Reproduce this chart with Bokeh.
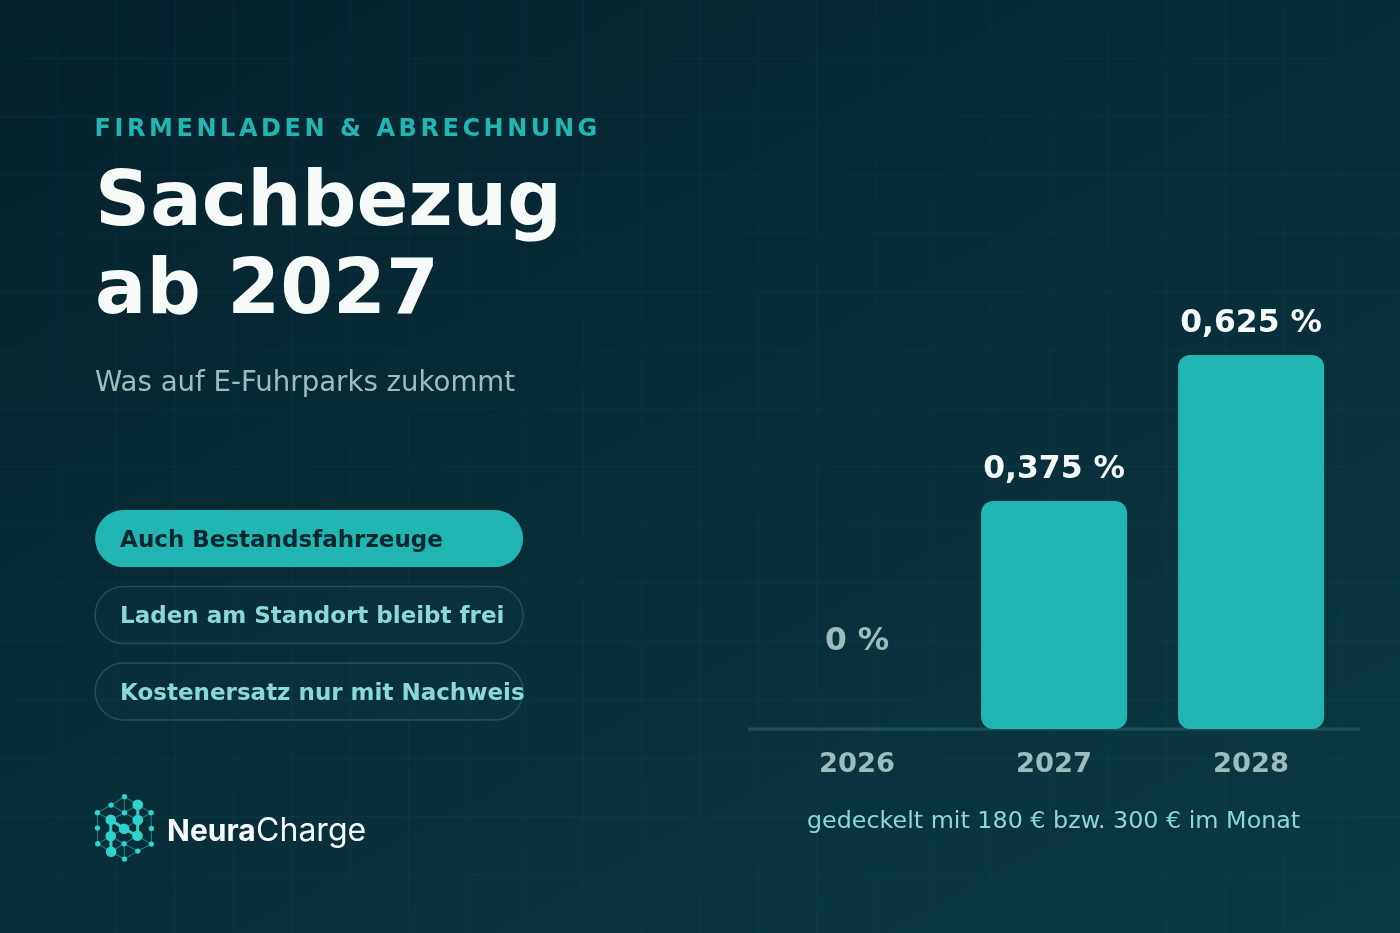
import numpy as np

from bokeh.core.properties import value
from bokeh.embed import file_html
from bokeh.models import ColumnDataSource, Range1d
from bokeh.plotting import figure
from bokeh.resources import INLINE

W, H = 1400, 933

eyebrow = "FIRMENLADEN & ABRECHNUNG"
title_lines = ["Sachbezug", "ab 2027"]
subtitle = "Was auf E-Fuhrparks zukommt"
pills = ["Auch Bestandsfahrzeuge", "Laden am Standort bleibt frei", "Kostenersatz nur mit Nachweis"]
brand_bold = "Neura"
brand_light = "Charge"

years = [2026, 2027, 2028]
year_labels = ["2026", "2027", "2028"]
# bar heights, in percent
bar_values = [0, 0.381, 0.625]
bar_labels = ["0 %", "0,375 %", "0,625 %"]
note = "gedeckelt mit 180 € bzw. 300 € im Monat"

TEAL = "#21b5b3"
MINT = "#8bd9d6"
MUTED = "#9dbcbc"
WHITE = "#f6fbfa"
FONT = value("DejaVu Sans")


def base(y, size):
    # svg text lands about 0.37em below the asked alphabetic baseline
    return y - 0.37 * size


p = figure(width=W + 2, height=H + 2, x_range=(-0.6, W + 1.4), y_range=(H + 1.4, -0.6), output_backend="svg",
           toolbar_location=None, min_border=0, x_axis_type=None, y_axis_type=None)
p.grid.visible = False
p.outline_line_color = None
p.styles = {"position": "fixed", "left": "-1px", "top": "-1px"}

# year and percent scales for the bars, laid over the pixel frame
px_per_year = 197
px_per_pct = 598.4
p.extra_x_ranges["years"] = Range1d(2026 - (857 + 0.6) / px_per_year, 2026 + (W + 1.4 - 857) / px_per_year)
p.extra_y_ranges["pct"] = Range1d(-(H + 1.4 - 729) / px_per_pct, (729 + 0.6) / px_per_pct)

# background gradient
yy, xx = np.mgrid[0:1:240j, 0:1:360j]
t = 0.45 * xx + 0.55 * yy
start = np.array([6, 34, 44])
end = np.array([11, 58, 68])
img = np.zeros((240, 360, 4), dtype=np.uint8)
for i in range(3):
    img[:, :, i] = start[i] + (end[i] - start[i]) * t
img[:, :, 3] = 255
p.image_rgba(image=[img.view(dtype=np.uint32).reshape(240, 360)], x=-0.6, y=-0.6, dw=W + 2, dh=H + 2)

# faint grid
step = W / 24
gx = np.arange(step, W, step)
gy = np.arange(step, H, step)
p.segment(gx, -1, gx, H + 2, line_color=TEAL, line_alpha=0.05, line_width=1.5)
p.segment(-1, gy, W + 2, gy, line_color=TEAL, line_alpha=0.05, line_width=1.5)

# left column
p.text([95], [base(227, 76.5)], text=[title_lines[0]], text_font=FONT, text_font_style="bold",
       text_font_size="76.5px", text_color=WHITE, text_baseline="alphabetic")
p.text([95], [base(315, 76)], text=[title_lines[1]], text_font=FONT, text_font_style="bold",
       text_font_size="76px", text_color=WHITE, text_baseline="alphabetic")
p.text([95], [base(392, 27.6)], text=[subtitle], text_font=FONT, text_font_size="27.6px", text_color=MUTED,
       text_baseline="alphabetic")

pill_top = [510, 586.5, 663]
p.quad(left=[95], right=[523], top=[pill_top[0]], bottom=[pill_top[0] + 57], fill_color=TEAL,
       line_color=None, border_radius=29)
p.quad(left=[95, 95], right=[523, 523], top=pill_top[1:], bottom=[pill_top[1] + 57, pill_top[2] + 57],
       fill_color=MINT, fill_alpha=0.02, line_color=MINT, line_alpha=0.2, line_width=1.5,
       border_radius=29)
pill_colors = ["#06272f", MINT, MINT]
p.text([120] * 3, [base(y + 37, 23) for y in pill_top], text=pills, text_font=FONT, text_font_style="bold",
       text_font_size="23px", text_color=pill_colors, text_baseline="alphabetic")

# logo
nodes_x = [133, 93, 173, 52, 133, 213, 92, 173, 132, 52, 214, 92, 172, 53, 132, 214, 93, 173, 133]
nodes_y = [50, 75, 74, 98, 98, 98, 119, 120, 146, 144, 145, 168, 167, 191, 191, 192, 215, 213, 237]
nodes_r = [8, 8, 16, 8, 8, 8, 16, 16, 16, 8, 8, 16, 16, 8, 8, 8, 16, 8, 8]
edges = [(0, 1), (1, 3), (3, 9), (9, 13), (13, 16), (16, 18), (18, 17), (17, 15), (15, 10), (10, 5),
         (5, 2), (2, 0), (1, 4), (4, 2), (3, 6), (8, 12), (12, 15), (13, 11), (11, 8),
         (8, 7), (7, 5), (4, 6), (4, 7), (11, 14), (14, 12), (14, 18), (0, 4), (16, 14), (14, 17)]
thick = [(6, 11), (11, 16), (2, 7), (7, 12), (6, 8), (8, 12)]
lx = [80 + v / 3 for v in nodes_x]
ly = [780 + v / 3 for v in nodes_y]
p.segment([lx[a] for a, b in edges], [ly[a] for a, b in edges], [lx[b] for a, b in edges],
          [ly[b] for a, b in edges], line_color=TEAL, line_alpha=0.6, line_width=1.1)
p.segment([lx[a] for a, b in thick], [ly[a] for a, b in thick], [lx[b] for a, b in thick],
          [ly[b] for a, b in thick], line_color="#2fd2cd", line_width=3)
p.scatter(lx, ly, size=[r * 2 / 3 for r in nodes_r], fill_color="#2fd2cd", line_color=None)
p.text([167], [base(841, 30)], text=[brand_bold], text_font=value("Inter"), text_font_style="bold",
       text_font_size="30px", text_color=WHITE, text_baseline="alphabetic")
p.text([256], [base(841, 32)], text=[brand_light], text_font=value("Inter"), text_font_size="32px",
       text_color=WHITE, text_baseline="alphabetic")

# chart
source = ColumnDataSource(data=dict(year=years, val=bar_values, label=bar_labels, year_label=year_labels))
p.segment([748], [729], [1360], [729], line_color="#1f5058", line_width=3)
p.vbar(x="year", top="val", bottom=0, width=146 / px_per_year, source=source, x_range_name="years",
       y_range_name="pct", fill_color=TEAL, line_color=None, border_radius=12)
p.text(x=years[1:], y=bar_values[1:], text=bar_labels[1:], x_range_name="years", y_range_name="pct",
       y_offset=-34.6, text_font=FONT, text_font_style="bold", text_font_size="31.4px", text_color=WHITE,
       text_align="center", text_baseline="alphabetic")
p.text(x=years[:1], y=bar_values[:1], text=bar_labels[:1], x_range_name="years", y_range_name="pct",
       y_offset=-90.6, text_font=FONT, text_font_style="bold", text_font_size="31.4px", text_color=MUTED,
       text_align="center", text_baseline="alphabetic")
p.text(x="year", y=0, text="year_label", source=source, x_range_name="years", y_range_name="pct",
       y_offset=33, text_font=FONT, text_font_style="bold", text_font_size="27.3px", text_color=MUTED,
       text_align="center", text_baseline="alphabetic")
p.text([1053.5], [base(829, 23.8)], text=[note], text_font=FONT, text_font_size="23.8px", text_color=MINT,
       text_align="center", text_baseline="alphabetic")

# letter spacing is only reachable through css, so the eyebrow gets its own transparent figure
eb = figure(width=540, height=40, x_range=(0, 540), y_range=(40, 0), output_backend="svg",
            toolbar_location=None, min_border=0, x_axis_type=None, y_axis_type=None,
            background_fill_alpha=0, border_fill_alpha=0)
eb.grid.visible = False
eb.outline_line_color = None
eb.styles = {"position": "fixed", "left": "90px", "top": "110px", "letter-spacing": "3.56px"}
eb.text([4], [base(26.5, 24)], text=[eyebrow], text_font=FONT, text_font_style="bold", text_font_size="24px",
        text_color=TEAL, text_baseline="alphabetic")

open("out.html", "w").write(file_html([p, eb], INLINE))
